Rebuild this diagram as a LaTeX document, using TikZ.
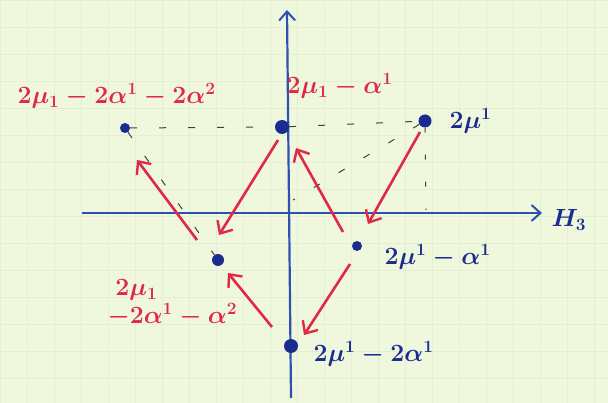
\documentclass[tikz,border=0pt]{standalone}
\usepackage{fontspec}
\usetikzlibrary{arrows.meta}
\definecolor{paper}{HTML}{EFF8DD}
\definecolor{gridc}{HTML}{E3EED2}
\definecolor{axblue}{HTML}{3050B0}
\definecolor{dotblue}{HTML}{1A2C90}
\definecolor{penred}{HTML}{E02848}
\tikzset{
  axis/.style={axblue,line width=2.2pt,-{Straight Barb[length=9pt,width=16pt,line width=2pt]}},
  wt/.style={circle,fill=dotblue,inner sep=0pt,minimum size=#1},
  refl/.style={penred,line width=2.6pt,-{Straight Barb[length=10pt,width=18pt,line width=2.4pt]}},
  guide/.style={black!75,line width=1pt,dash pattern=on 7pt off 22pt},
  redlab/.style={penred,font=\fontsize{23}{28}\selectfont\boldmath},
  bluelab/.style={dotblue,font=\fontsize{23}{28}\selectfont\boldmath},
}
\begin{document}
\begin{tikzpicture}[x=1pt,y=-1pt]
\useasboundingbox (0,0) rectangle (608,403);
\fill[paper] (0,0) rectangle (608,403);
\draw[gridc,line width=0.5pt,step=27pt] (0,0) grid (608,403);
% axes
\coordinate (xs) at (82,213);
\coordinate (xe) at (542,213);
\coordinate (ys) at (291,398);
\coordinate (ye) at (287,10);
\draw[axis] (xs) -- (xe);
\draw[axis] (ys) -- (ye);
\node[bluelab,anchor=west,font=\fontsize{26}{30}\selectfont\boldmath] (h3) at (548,220) {$H_3$};
% weights
\node[wt=10pt] (A) at (125,128) {};
\node[wt=14pt] (B) at (282,127) {};
\node[wt=13pt] (C) at (425,121) {};
\node[wt=12pt] (D) at (218,260) {};
\node[wt=10pt] (E) at (357,246) {};
\node[wt=14pt] (F) at (291,346) {};
% guides
\draw[guide] (A) -- (B);
\draw[guide] (B) -- (C);
\draw[guide] (C) -- (293,200);
\draw[black!75,line width=1pt,dash pattern=on 5pt off 22pt] (C) -- (426,210);
\draw[guide] (A) -- (D);
% labels
\node[redlab,anchor=west] (lA) at (14,96) {$2\mu_1-2\alpha^1-2\alpha^2$};
\node[redlab,anchor=west] (lB) at (283,86) {$2\mu_1-\alpha^1$};
\node[bluelab,anchor=west] (lC) at (446,121) {$2\mu^1$};
\node[redlab,align=left,anchor=north west] (lD) at (104,276) {$\;2\mu_1$\\$-2\alpha^1-\alpha^2$};
\node[bluelab,anchor=west] (lE) at (381,257) {$2\mu^1-\alpha^1$};
\node[bluelab,anchor=west] (lF) at (310,354) {$2\mu^1-2\alpha^1$};
% reflections
\coordinate (r1s) at (278,140); \coordinate (r1e) at (219,235);
\coordinate (r2s) at (343,232); \coordinate (r2e) at (296,148);
\coordinate (r3s) at (420,132); \coordinate (r3e) at (368,224);
\coordinate (r4s) at (197,240); \coordinate (r4e) at (137,160);
\coordinate (r5s) at (272,327); \coordinate (r5e) at (228,273);
\coordinate (r6s) at (350,264); \coordinate (r6e) at (304,335);
\draw[refl] (r1s) -- (r1e);
\draw[refl] (r2s) -- (r2e);
\draw[refl] (r3s) -- (r3e);
\draw[refl] (r4s) -- (r4e);
\draw[refl] (r5s) -- (r5e);
\draw[refl] (r6s) -- (r6e);
\end{tikzpicture}
\end{document}
